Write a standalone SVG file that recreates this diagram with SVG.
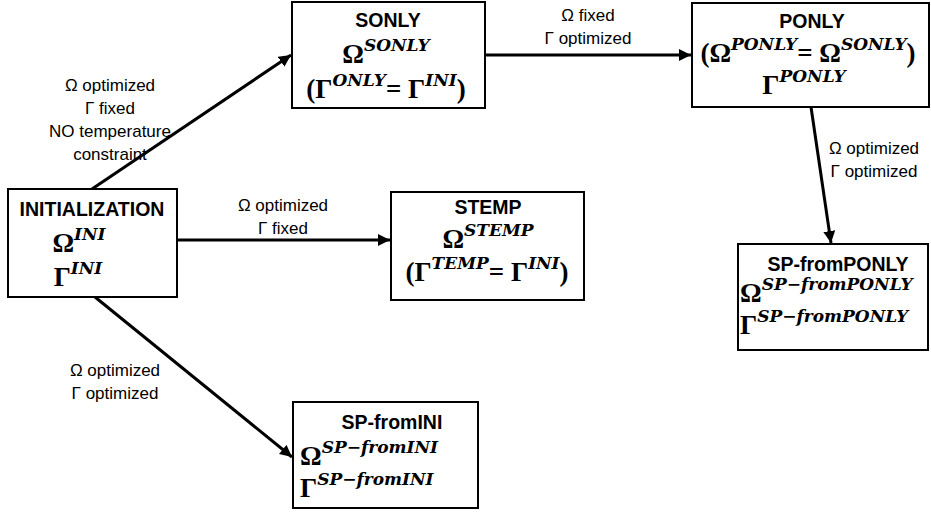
<svg xmlns="http://www.w3.org/2000/svg" width="931" height="512" viewBox="0 0 931 512">
<style>
.box{fill:#fff;stroke:#000;stroke-width:2}
.t{font-family:"Liberation Sans",Arial,sans-serif;font-weight:bold;font-size:19.5px;text-anchor:middle}
.m{font-family:"Liberation Serif","DejaVu Serif",serif;font-weight:bold;font-size:27px}
.mc{text-anchor:middle}
.s{font-family:"DejaVu Serif",serif;font-style:italic;font-size:17px}
.lbl{font-family:"Liberation Sans",Arial,sans-serif;font-size:17px;text-anchor:middle}
.e{stroke:#000;stroke-width:3;fill:none;marker-end:url(#ah)}
</style>
<defs>
<marker id="ah" markerUnits="userSpaceOnUse" markerWidth="13" markerHeight="12" refX="12" refY="6" orient="auto">
<path d="M0,0 L12,6 L0,12 z" fill="#000"/>
</marker>
</defs>
<rect width="931" height="512" fill="#fff"/>
<g id="connectors">
<line class="e" x1="92" y1="189" x2="291" y2="55"/>
<line class="e" x1="177" y1="240" x2="390" y2="240"/>
<line class="e" x1="95" y1="297" x2="292" y2="457"/>
<line class="e" x1="485" y1="55" x2="691" y2="55"/>
<line class="e" x1="811" y1="107" x2="831" y2="243"/>
<text class="lbl" x="110" y="91">Ω optimized</text>
<text class="lbl" x="110" y="114">Γ fixed</text>
<text class="lbl" x="110" y="137">NO temperature</text>
<text class="lbl" x="110" y="160">constraint</text>
<text class="lbl" x="283" y="211">Ω optimized</text>
<text class="lbl" x="283" y="234">Γ fixed</text>
<text class="lbl" x="115" y="376">Ω optimized</text>
<text class="lbl" x="115" y="399">Γ optimized</text>
<text class="lbl" x="588" y="21">Ω fixed</text>
<text class="lbl" x="588" y="44">Γ optimized</text>
<text class="lbl" x="874" y="154">Ω optimized</text>
<text class="lbl" x="874" y="177">Γ optimized</text>
</g>
<g id="init">
<rect class="box" x="8" y="189" width="169" height="108"/>
<text class="t" x="92" y="216">INITIALIZATION</text>
<text class="m mc" x="79" y="252">Ω<tspan class="s" dy="-12">INI</tspan></text>
<text class="m mc" x="78" y="286">Γ<tspan class="s" dy="-12">INI</tspan></text>
</g>
<g id="sonly">
<rect class="box" x="292" y="2" width="193" height="106"/>
<text class="t" x="388" y="27">SONLY</text>
<text class="m mc" x="386" y="63">Ω<tspan class="s" dy="-12">SONLY</tspan></text>
<text class="m mc" x="386" y="98">(Γ<tspan class="s" dy="-12">ONLY</tspan><tspan dy="12">= Γ</tspan><tspan class="s" dy="-12">INI</tspan><tspan dy="12">)</tspan></text>
</g>
<g id="ponly">
<rect class="box" x="692" y="3" width="237" height="104"/>
<text class="t" x="812" y="28">PONLY</text>
<text class="m mc" x="808" y="62">(Ω<tspan class="s" dy="-12">PONLY</tspan><tspan dy="12">= Ω</tspan><tspan class="s" dy="-12">SONLY</tspan><tspan dy="12">)</tspan></text>
<text class="m mc" x="804" y="94">Γ<tspan class="s" dy="-12">PONLY</tspan></text>
</g>
<g id="stemp">
<rect class="box" x="391" y="192" width="193" height="108"/>
<text class="t" x="488" y="214">STEMP</text>
<text class="m mc" x="488" y="248">Ω<tspan class="s" dy="-12">STEMP</tspan></text>
<text class="m mc" x="487" y="281">(Γ<tspan class="s" dy="-12">TEMP</tspan><tspan dy="12">= Γ</tspan><tspan class="s" dy="-12">INI</tspan><tspan dy="12">)</tspan></text>
</g>
<g id="sp-fromponly">
<rect class="box" x="738" y="244" width="190" height="106"/>
<text class="t" x="838" y="271">SP-fromPONLY</text>
<text class="m" x="740" y="302">Ω<tspan class="s" dy="-12">SP−fromPONLY</tspan></text>
<text class="m" x="740" y="334">Γ<tspan class="s" dy="-12">SP−fromPONLY</tspan></text>
</g>
<g id="sp-fromini">
<rect class="box" x="293" y="402" width="185" height="106"/>
<text class="t" x="392" y="429">SP-fromINI</text>
<text class="m" x="300" y="465">Ω<tspan class="s" dy="-12">SP−fromINI</tspan></text>
<text class="m" x="300" y="497">Γ<tspan class="s" dy="-12">SP−fromINI</tspan></text>
</g>
</svg>
